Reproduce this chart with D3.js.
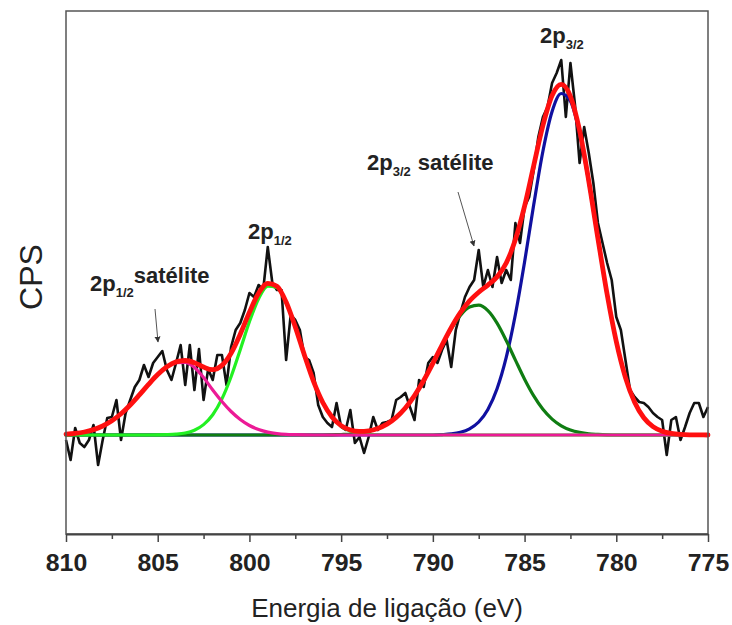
<!DOCTYPE html>
<html>
<head>
<meta charset="utf-8">
<script src="https://cdn.jsdelivr.net/npm/d3@7/dist/d3.min.js"></script>
<style>
  body { margin: 0; background: #fff; }
  svg { display: block; }
</style>
</head>
<body>
<div id="chart"></div>
<script>
// raw spectrum: binding energy from 810 down to 775 eV, one point every 0.25 eV
const rawStart = 810;
const rawStep = 0.25;
const rawCounts = [
  -5, -25, 7, -8,      // 810
  -12, -5, 10, -30,    // 809
  -5, 17, 18, 35,      // 808
  -5, 22, 35, 48,      // 807
  55, 70, 58, 72,      // 806
  78, 84, 65, 55,      // 805
  72, 90, 50, 90,      // 804
  45, 86, 35, 66,      // 803
  55, 80, 80, 50,      // 802
  88, 105, 112, 125,   // 801
  142, 138, 150, 145,  // 800
  188, 152, 145, 145,  // 799
  75, 120, 115, 105,   // 798
  78, 75, 62, 30,      // 797
  18, 12, 8, 32,       // 796
  8, 5, 25, -8,        // 795
  -2, -18, -2, 18,     // 794
  5, 12, 13, 15,       // 793
  35, 38, 42, 28,      // 792
  15, 55, 48, 72,      // 791
  78, 72, 85, 95,      // 790
  68, 105, 122, 138,   // 789
  148, 155, 185, 148,  // 788
  165, 148, 178, 152,  // 787
  165, 155, 212, 192,  // 786
  228, 238, 265, 298,  // 785
  318, 328, 352, 362,  // 784
  375, 318, 372, 330,  // 783
  272, 308, 282, 252,  // 782
  212, 192, 172, 155,  // 781
  118, 105, 75, 45,    // 780
  38, 33, 32, 28,      // 779
  22, 18, 15, -20,     // 778
  15, 18, -5, 8,       // 777
  22, 32, 32, 18,      // 776
  28                   // 775
];

// fitted peaks, 810 -> 775 eV every 0.5 eV
const fitStart = 810;
const fitStep = 0.5;
const fit2p12sat = [
  0.8, 1.6, 3.0, 5.4, 9.0, 14.2, 21.2, 30.0, 40.1, 50.6,
  60.3, 67.9, 72.3, 72.5, 67.5, 57.5, 45, 33.5, 23.5, 15.5,
  9.5, 5.5, 2.9, 1.4, 0.6, 0.3, 0.1, 0, 0, 0,
  0, 0, 0, 0, 0, 0, 0, 0, 0, 0,
  0, 0, 0, 0, 0, 0, 0, 0, 0, 0,
  0, 0, 0, 0, 0, 0, 0, 0, 0, 0,
  0, 0, 0, 0, 0, 0, 0, 0, 0, 0,
  0
];
const fit2p12 = [
  0, 0, 0, 0, 0, 0, 0, 0, 0, 0,
  0.1, 0.3, 0.8, 2.0, 4.8, 10.4, 20.3, 36.1, 58.3, 85.3,
  113.2, 136.3, 148.8, 147.4, 132.4, 107.8, 79.7, 53.4, 32.5, 17.9,
  8.9, 4.1, 1.7, 0.6, 0.2, 0, 0, 0, 0, 0,
  0, 0, 0, 0, 0, 0, 0, 0, 0, 0,
  0, 0, 0, 0, 0, 0, 0, 0, 0, 0,
  0, 0, 0, 0, 0, 0, 0, 0, 0, 0,
  0
];
const fit2p32sat = [
  0, 0, 0, 0, 0, 0, 0, 0, 0, 0,
  0, 0, 0, 0, 0, 0, 0, 0, 0, 0,
  0, 0, 0, 0, 0, 0, 0, 0, 0, 0.2,
  0.5, 0.9, 1.9, 3.6, 6.4, 10.9, 17.6, 27.0, 39.4, 54.5,
  71.7, 89.5, 106.2, 119.6, 127.9, 129.8, 124.3, 111.8, 94.4, 74.9,
  55.8, 39.1, 25.7, 15.9, 9.2, 5.0, 2.6, 1.2, 0.6, 0.2,
  0, 0, 0, 0, 0, 0, 0, 0, 0, 0,
  0
];
const fit2p32 = [
  0, 0, 0, 0, 0, 0, 0, 0, 0, 0,
  0, 0, 0, 0, 0, 0, 0, 0, 0, 0,
  0, 0, 0, 0, 0, 0, 0, 0, 0, 0,
  0, 0, 0, 0, 0, 0, 0, 0, 0, 0,
  0, 0.4, 1.1, 2.7, 6.2, 13.0, 25.6, 46.3, 77.6, 120.5,
  173.0, 230.4, 283.8, 323.5, 341.5, 333.7, 301.8, 252.8, 195.9, 140.6,
  93.4, 57.4, 32.7, 17.2, 8.4, 3.8, 1.6, 0.6, 0.2, 0.1,
  0
];
const fitEnvelope = [
  0.8, 1.6, 3.0, 5.4, 9.0, 14.2, 21.2, 30.0, 40.1, 50.6,
  60.4, 68.2, 73.1, 74.5, 72.3, 67.9, 65.3, 69.6, 81.8, 100.8,
  122.7, 141.8, 151.7, 148.8, 133.0, 108.1, 79.8, 53.4, 32.5, 18.1,
  9.4, 5.0, 3.6, 4.2, 6.6, 10.9, 17.6, 27.0, 39.4, 54.5,
  71.7, 89.9, 107.3, 122.3, 134.1, 142.8, 149.9, 158.1, 172.0, 195.4,
  228.8, 269.5, 309.5, 339.4, 350.7, 338.7, 304.4, 254.0, 196.5, 140.8,
  93.4, 57.4, 32.7, 17.2, 8.4, 3.8, 1.6, 0.6, 0.2, 0.1,
  0
];

const xTicks = [810, 805, 800, 795, 790, 785, 780, 775];
const xMinorTicks = [807.5, 802.5, 797.5, 792.5, 787.5, 782.5, 777.5];

const svgWidth = 732;
const svgHeight = 625;
const margin = {top: 11, right: 24, bottom: 91, left: 66},
  width = svgWidth - margin.left - margin.right,
  height = svgHeight - margin.top - margin.bottom;

const svg = d3.select("#chart")
  .append("svg")
  .attr("width", svgWidth)
  .attr("height", svgHeight)
  .style("font-family", "'Liberation Sans', Arial, sans-serif");

const g = svg.append("g")
  .attr("transform", "translate(" + margin.left + "," + margin.top + ")");

const x = d3.scaleLinear().domain([810, 775]).range([0, width]);
const y = d3.scaleLinear().domain([-99, 424]).range([height, 0]);

const rawData = rawCounts.map((c, i) => ({e: rawStart - i * rawStep, v: c}));
const toFit = arr => arr.map((c, i) => ({e: fitStart - i * fitStep, v: c}));

const rawLine = d3.line().x(d => x(d.e)).y(d => y(d.v));
const fitLine = d3.line().x(d => x(d.e)).y(d => y(d.v)).curve(d3.curveMonotoneX);

// measured data
g.append("path")
  .datum(rawData)
  .attr("d", rawLine)
  .attr("fill", "none")
  .attr("stroke", "#111")
  .attr("stroke-width", 2.6)
  .attr("stroke-linejoin", "round");

// fitted components, then envelope on top
const comps = [
  {data: fit2p32, color: "#1010a0", w: 3.2},
  {data: fit2p32sat, color: "#0f7d12", w: 3.2},
  {data: fit2p12, color: "#22f022", w: 3.2},
  {data: fit2p12sat, color: "#ec1a96", w: 3.2},
  {data: fitEnvelope, color: "#ff1010", w: 4.8}
];
comps.forEach(c => {
  g.append("path")
    .datum(toFit(c.data))
    .attr("d", fitLine)
    .attr("fill", "none")
    .attr("stroke", c.color)
    .attr("stroke-width", c.w)
    .attr("stroke-linecap", "round");
});

// frame
g.append("rect")
  .attr("width", width)
  .attr("height", height)
  .attr("fill", "none")
  .attr("stroke", "#555")
  .attr("stroke-width", 1.5);

// x axis
const xAxis = g.append("g")
  .attr("transform", "translate(0," + height + ")")
  .call(d3.axisBottom(x).tickValues(xTicks).tickSize(8).tickSizeOuter(0).tickPadding(13));
xAxis.select(".domain").attr("stroke", "#444").attr("stroke-width", 1.8);
xAxis.selectAll(".tick line").attr("stroke", "#444").attr("stroke-width", 1.5);
xAxis.selectAll(".tick text")
  .attr("fill", "#222")
  .style("font-size", "23px")
  .style("font-weight", "bold")
  .attr("transform", "scale(1.08,1)");

const xMinor = g.append("g")
  .attr("transform", "translate(0," + height + ")")
  .call(d3.axisBottom(x).tickValues(xMinorTicks).tickSize(5).tickFormat(""));
xMinor.select(".domain").remove();
xMinor.selectAll(".tick line").attr("stroke", "#444").attr("stroke-width", 1.5);

// axis titles
svg.append("text")
  .attr("x", margin.left + width / 2)
  .attr("y", 617)
  .attr("text-anchor", "middle")
  .attr("fill", "#222")
  .style("font-size", "26px")
  .text("Energia de ligação (eV)");

svg.append("text")
  .attr("transform", "translate(42,277) rotate(-90)")
  .attr("text-anchor", "middle")
  .attr("fill", "#222")
  .style("font-size", "32px")
  .text("CPS");

// peak labels
function peakLabel(px, py, sub, tail, tailDx, tailDy) {
  const t = svg.append("text")
    .attr("x", px)
    .attr("y", py)
    .attr("fill", "#222")
    .style("font-size", "22px")
    .style("font-weight", "bold");
  t.append("tspan").text("2p");
  t.append("tspan").attr("dy", 6).style("font-size", "13px").text(sub);
  if (tail) {
    t.append("tspan").attr("dx", tailDx).attr("dy", tailDy).text(tail);
  }
}
peakLabel(540, 43, "3/2");
peakLabel(248, 239, "1/2");
peakLabel(90, 291, "1/2", "satélite", 0, -14);
peakLabel(367, 170, "3/2", "satélite", 7, -6);

// arrows
const defs = svg.append("defs");
defs.append("marker")
  .attr("id", "head")
  .attr("viewBox", "0 0 10 10")
  .attr("refX", 9).attr("refY", 5)
  .attr("markerWidth", 6).attr("markerHeight", 7)
  .attr("orient", "auto")
  .append("path")
  .attr("d", "M0,0 L10,5 L0,10 Z")
  .attr("fill", "#333");

[[155, 309, 158, 342], [458, 192, 474, 246]].forEach(a => {
  svg.append("line")
    .attr("x1", a[0]).attr("y1", a[1])
    .attr("x2", a[2]).attr("y2", a[3])
    .attr("stroke", "#555")
    .attr("stroke-width", 1)
    .attr("marker-end", "url(#head)");
});
</script>
</body>
</html>
